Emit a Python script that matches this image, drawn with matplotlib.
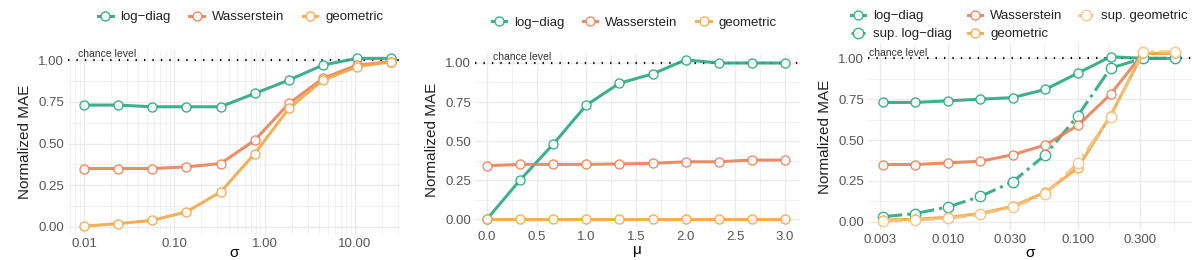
import matplotlib
matplotlib.use("Agg")
import matplotlib.pyplot as plt
import numpy as np

plt.rcParams['font.family'] = ['Liberation Sans', 'DejaVu Sans']

# panel 1: sigma (log scale)
sigma1 = [0.01, 0.0239, 0.0571, 0.136, 0.326, 0.779, 1.86, 4.44, 10.6, 25.1]
logdiag1 = [0.73, 0.73, 0.72, 0.72, 0.72, 0.80, 0.88, 0.97, 1.01, 1.01]
wass1 = [0.35, 0.35, 0.35, 0.36, 0.38, 0.52, 0.74, 0.89, 0.97, 0.99]
geom1 = [0.005, 0.02, 0.04, 0.09, 0.21, 0.44, 0.71, 0.88, 0.96, 0.99]

# panel 2: mu
mu2 = [0.0, 0.333, 0.667, 1.0, 1.333, 1.667, 2.0, 2.333, 2.667, 3.0]
logdiag2 = [0.0, 0.25, 0.48, 0.73, 0.87, 0.93, 1.02, 1.0, 1.0, 1.0]
wass2 = [0.342, 0.35, 0.35, 0.35, 0.353, 0.357, 0.367, 0.367, 0.378, 0.378]
geom2 = [0.0, 0.0, 0.0, 0.0, 0.0, 0.0, 0.0, 0.0, 0.0, 0.0]

# panel 3: sigma (log scale), with supervised variants
sigma3 = [0.00316, 0.00562, 0.01, 0.0178, 0.0316, 0.0562, 0.1, 0.178, 0.316, 0.562]
logdiag3 = [0.73, 0.73, 0.74, 0.75, 0.76, 0.81, 0.91, 1.01, 1.0, 1.0]
suplog3 = [0.03, 0.05, 0.09, 0.155, 0.245, 0.41, 0.65, 0.94, 1.0, 1.0]
wass3 = [0.35, 0.35, 0.36, 0.37, 0.41, 0.47, 0.59, 0.78, 1.03, 1.03]
geom3 = [0.01, 0.015, 0.027, 0.05, 0.095, 0.18, 0.33, 0.65, 1.03, 1.03]
supgeom3 = [0.005, 0.01, 0.02, 0.045, 0.09, 0.17, 0.36, 0.64, 1.04, 1.04]

c_log = '#2aa882'
c_wass = '#e8825a'
c_geom = '#f0a848'
c_supgeom = '#f5c27e'
grid_col = '#ebebeb'
txt_col = '#555555'

W, H = 1203, 260
fig = plt.figure(figsize=(W / 100, H / 100), dpi=100)


def add_ax(left, right, top, bottom):
    return fig.add_axes([left / W, 1 - bottom / H, (right - left) / W, (bottom - top) / H])


def style(ax):
    for s in ax.spines.values():
        s.set_visible(False)
    ax.tick_params(length=0, labelsize=9.5, labelcolor=txt_col, pad=3)
    ax.set_yticks([0, 0.25, 0.5, 0.75, 1.0])
    ax.set_yticks([0.125, 0.375, 0.625, 0.875], minor=True)
    ax.set_yticklabels(['0.00', '0.25', '0.50', '0.75', '1.00'])
    ax.grid(True, which='major', color=grid_col, lw=1.0)
    ax.grid(True, which='minor', color=grid_col, lw=0.5)
    ax.tick_params(which='minor', length=0)
    ax.set_axisbelow(True)
    ax.set_ylabel('Normalized MAE', fontsize=11, color='#222222', labelpad=4)


def series(ax, x, y, color, label, ls='-', ms=6.5):
    ax.plot(x, y, ls, color=color, lw=2.2, alpha=0.9, marker='o', ms=ms,
            mfc='white', mec=color, mew=1.0, label=label)


def chance(ax, xt):
    ax.axhline(1.0, color='black', lw=1.6, ls=(0, (0.6, 3.2)), zorder=1)
    ax.text(xt, 1.005, 'chance level', fontsize=7.5, color='#333333', va='bottom', ha='left')


leg_kw = dict(frameon=False, fontsize=9.5, handlelength=1.1, handletextpad=0.6,
              labelcolor='#222222')

# ---- panel 1
ax1 = add_ax(68, 400, 50, 234)
style(ax1)
ax1.set_xscale('log')
ax1.set_xticks([0.01, 0.1, 1, 10])
ax1.set_xticklabels(['0.01', '0.10', '1.00', '10.00'])
minors = [m * 10.0 ** k for k in range(-3, 2) for m in range(2, 10)]
ax1.set_xticks(minors, minor=True)
ax1.set_xticklabels([], minor=True)
ax1.set_xlim(0.00665, 31.6)
ax1.set_ylim(-0.042, 1.06)
chance(ax1, 0.0086)
series(ax1, sigma1, logdiag1, c_log, 'log\u2212diag')
series(ax1, sigma1, wass1, c_wass, 'Wasserstein')
series(ax1, sigma1, geom1, c_geom, 'geometric')
ax1.set_xlabel('σ', fontsize=11, labelpad=-3)
ax1.legend(loc='lower center', bbox_to_anchor=(0.52, 1.08), ncol=3,
           columnspacing=1.4, **leg_kw)

# ---- panel 2
ax2 = add_ax(475, 800, 53, 227)
style(ax2)
ax2.set_xticks([0, 0.5, 1, 1.5, 2, 2.5, 3])
ax2.set_xticklabels(['0.0', '0.5', '1.0', '1.5', '2.0', '2.5', '3.0'])
ax2.set_xticks([0.25, 0.75, 1.25, 1.75, 2.25, 2.75], minor=True)
ax2.set_xlim(-0.121, 3.152)
ax2.set_ylim(-0.051, 1.064)
chance(ax2, 0.06)
series(ax2, mu2, logdiag2, c_log, 'log\u2212diag')
series(ax2, mu2, wass2, c_wass, 'Wasserstein')
series(ax2, mu2, geom2, c_geom, 'geometric')
ax2.set_xlabel('μ', fontsize=11, labelpad=0)
ax2.legend(loc='lower center', bbox_to_anchor=(0.49, 1.07), ncol=3,
           columnspacing=1.4, **leg_kw)

# ---- panel 3
ax3 = add_ax(868, 1192, 43, 230)
style(ax3)
ax3.set_xscale('log')
ax3.set_xticks([0.003, 0.01, 0.03, 0.1, 0.3])
ax3.set_xticklabels(['0.003', '0.010', '0.030', '0.100', '0.300'])
ax3.set_xticks([0.0055, 0.0173, 0.0548, 0.173, 0.548], minor=True)
ax3.set_xticklabels([], minor=True)
ax3.set_xlim(0.00243, 0.753)
ax3.set_ylim(-0.051, 1.094)
chance(ax3, 0.00248)
series(ax3, sigma3, logdiag3, c_log, 'log\u2212diag')
series(ax3, sigma3, suplog3, c_log, 'sup. log\u2212diag', ls='-.', ms=7.5)
series(ax3, sigma3, wass3, c_wass, 'Wasserstein')
series(ax3, sigma3, geom3, c_geom, 'geometric')
series(ax3, sigma3, supgeom3, c_supgeom, 'sup. geometric', ls='-.', ms=7.5)
ax3.set_xlabel('σ', fontsize=11, labelpad=0)
ax3.legend(loc='lower left', bbox_to_anchor=(-0.09, 0.95), ncol=3,
           columnspacing=1.2, labelspacing=0.45, **leg_kw)

fig.savefig('out.png', dpi=100)
